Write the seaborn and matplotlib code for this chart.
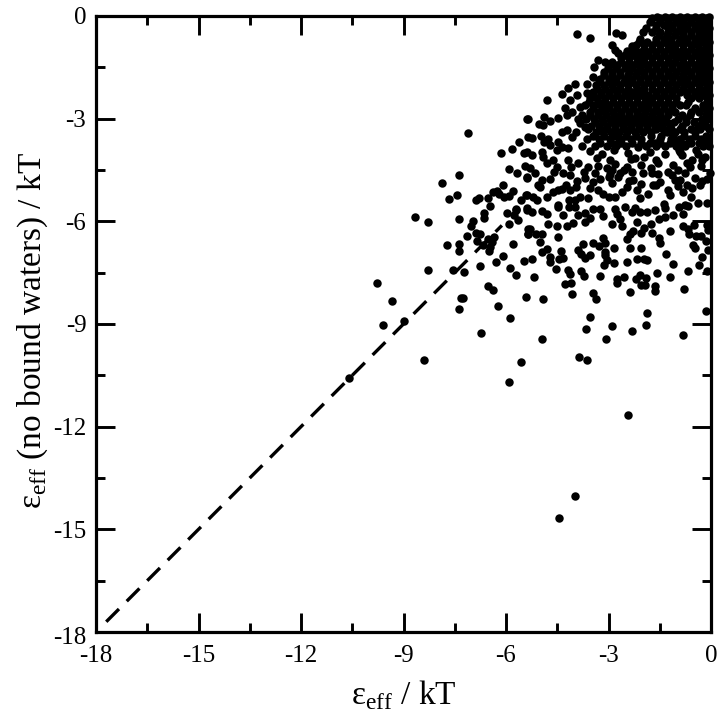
import matplotlib
matplotlib.use("Agg")
import matplotlib.pyplot as plt
from matplotlib.ticker import MultipleLocator
from matplotlib.transforms import ScaledTranslation
import numpy as np
import pandas as pd
import seaborn as sns

# isolated points in the lower tail
tail_x = [-7.11,-7.87,-7.37,-7.67,-7.43,-6.88,-6.79,-6.53,-6.47,-6.38,-6.26,-6.09,-6.15,-5.82,-5.62,-5.36,-5.39,-5.91,-5.68,-5.47,
          -5.44,-5.39,-6.2,-6.05,-5.9,-5.8,-5.56,-5.41,-5.71,-5.39,-8.66,-8.28,-7.37,-6.98,-7.03,-6.63,-6.63,-5.98,-5.71,-5.78,
          -5.66,-5.9,-5.39,-5.35,-5.37,-7.15,-6.88,-6.76,-6.86,-6.54,-6.35,-6.4,-6.68,-6.47,-6.49,-7.73,-7.39,-7.37,-5.79,-6.1,
          -6.3,-6.76,-5.47,-5.87,-5.7,-7.56,-7.22,-8.28,-9.78,-6.52,-6.39,-7.33,-7.25,-7.37,-6.22,-5.41,-5.87,-9.34,-9.61,-8.99,
          -6.74,-8.39,-5.55,-5.9,-10.59,-4.45,-3.98,-2.43]
tail_y = [-3.41,-4.89,-4.65,-5.35,-5.23,-5.38,-5.33,-5.32,-5.55,-5.15,-5.12,-4.94,-4.0,-3.89,-3.68,-3.54,-3.01,-4.47,-4.59,-4.0,
          -4.39,-4.74,-5.2,-5.3,-5.25,-5.1,-5.38,-5.23,-5.65,-5.6,-5.87,-6.01,-5.92,-5.98,-6.13,-5.77,-5.9,-5.75,-5.67,-5.82,
          -5.97,-6.09,-5.67,-6.21,-6.37,-6.43,-6.35,-6.38,-6.58,-6.52,-6.45,-6.6,-6.7,-6.76,-6.87,-6.68,-6.66,-6.86,-6.67,-7.01,
          -7.18,-7.3,-7.16,-7.35,-7.56,-7.41,-7.48,-7.41,-7.81,-7.88,-8.01,-8.23,-8.25,-8.56,-8.47,-8.21,-8.83,-8.34,-9.02,-8.92,
          -9.27,-10.06,-10.11,-10.7,-10.59,-14.66,-14.03,-11.67]

# separate points below the dense cloud
low_x = [-4.91,-4.95,-3.86,-3.62,-3.67,-3.55,-3.07,-2.89,-2.32,-1.89,-1.87,-0.82,-0.15,-4.07,-3.44,-3.38,-5.17,-4.26,-4.09,-4.53,
         -4.19,-4.12,-3.81,-3.73,-3.25,-3.13,-2.83,-2.75,-2.76,-2.55,-2.36,-2.45,-2.2,-2.08,-1.91,-2.05,-1.93,-1.65,-1.63,-1.57,
         -1.2,-1.1,-0.79,-0.66,-0.35,-0.13,-0.26,-0.09,-0.47,-0.52,-0.15,-1.33,-1.86,-1.95,-2.18,-2.04,-2.36,-2.83,-3.1,-3.1,
         -3.05,-3.53,-3.69,-3.8,-3.9,-3.74,-3.46,-3.29,-3.15,-3.1,-4.39,-4.47,-4.44,-4.32,-4.71,-4.71,-4.79,-4.96,-5.23,-5.01,
         -5.12,-4.94,-5.35,-5.31,-4.77,-4.52,-4.22,-4.03,-4.34,-4.95,-4.81,-5.23,-4.49,-2.9,-2.6,-2.17,-1.76,-1.95,-2.05,-2.27,
         -2.38,-2.47,-1.73,-1.51,-1.48,-1.2,-0.83,-0.66,-0.63,-0.45,-0.29,-0.5,-0.13,-0.1,-1.51,-1.34,-1.1,-0.83,-3.17,-3.54,
         -3.69,-3.88,-3.7,-2.76,-2.66,-2.32,-2.08,-1.87,-1.64,-4.17,-3.98,-3.44,-3.25,-2.81,-2.52,-2.22,-1.34,-0.95,-0.66]
low_y = [-8.27,-9.44,-9.97,-10.06,-9.14,-8.81,-9.44,-9.05,-9.2,-9.03,-8.69,-9.31,-8.61,-8.12,-8.09,-8.27,-7.62,-7.83,-7.8,-7.39,
         -7.41,-7.55,-7.45,-7.61,-7.61,-7.28,-7.23,-7.69,-7.8,-7.62,-8.07,-7.19,-7.69,-7.57,-7.67,-7.86,-7.86,-8.04,-7.9,-7.52,
         -7.62,-7.25,-7.99,-7.44,-7.28,-7.44,-7.04,-6.84,-6.79,-6.7,-6.57,-6.95,-7.14,-7.11,-7.09,-6.77,-6.77,-6.78,-6.89,-6.99,
         -7.13,-6.99,-7.07,-6.94,-6.83,-6.65,-6.62,-6.71,-6.5,-6.62,-6.86,-6.47,-7.1,-7.08,-7.18,-7.04,-6.82,-6.91,-7.09,-6.6,
         -6.38,-6.38,-6.38,-6.23,-6.09,-6.14,-6.14,-6.06,-5.82,-5.69,-5.8,-5.74,-5.57,-6.09,-6.14,-6.03,-6.08,-6.19,-6.33,-6.29,
         -6.37,-6.53,-6.35,-6.5,-6.63,-6.29,-6.15,-6.23,-6.36,-6.42,-6.42,-6.11,-6.11,-6.26,-5.93,-5.87,-5.82,-5.8,-5.84,-5.9,
         -5.77,-5.82,-6.01,-5.8,-5.93,-5.72,-5.74,-5.72,-5.67,-5.57,-5.57,-5.64,-5.64,-5.64,-5.57,-5.62,-5.6,-5.57,-5.55]

# points on the rim of the cloud and in its thinner lower part
rim_x = [-3.91,-3.53,-2.79,-2.61,-2.89,-2.81,-2.71,-2.47,-2.32,-2.22,-3.32,-3.1,-3.42,-3.44,-3.64,-3.98,-4.19,-4.37,-4.13,-3.91,
         -3.64,-4.81,-4.27,-4.08,-4.22,-3.83,-4.47,-4.88,-4.71,-5.03,-4.91,-5.35,-5.23,-4.98,-4.76,-4.88,-4.47,-4.37,-4.22,-4.08,
         -3.83,-3.69,-4.52,-4.37,-4.18,-4.95,-4.91,-5.25,-5.39,-4.61,-4.52,-5.15,-5.3,-5.39,-4.95,-4.71,-5.05,-5.2,-5.39,-4.81,
         -5.1,-4.47,-4.37,-4.32,-4.13,-3.93,-3.44,-3.54,-4.13,-4.47,-4.17,-3.98,-3.83,-3.59,-3.3,-3.15,-3.0,-2.81,-2.61,-2.47,
         -2.27,-2.17,-2.08,-1.85,-1.69,-1.49,-1.25,-1.2,-1.39,-0.81,-0.56,-0.32,-0.13,-0.03,-0.59,-0.37,-0.13,-0.76,-1.05,-1.25,
         -0.76,-0.96,-1.74,-1.98,-2.56,-3.0,-2.91,-3.59,-3.88,-4.18,-3.05,-2.71,-1.54,-2.22,-0.56,-0.17,-0.37,-0.08,-0.13,-0.66,
         -0.95,-1.05,-1.64,-2.13,-2.71]
rim_y = [-0.53,-0.63,-0.51,-0.56,-0.85,-0.98,-1.09,-1.01,-0.88,-1.04,-1.29,-1.34,-1.5,-1.77,-1.99,-1.99,-2.1,-2.28,-2.44,-2.31,
         -2.26,-2.46,-2.7,-2.8,-2.9,-2.65,-2.99,-2.96,-3.06,-3.16,-3.19,-3.01,-3.56,-3.5,-3.58,-3.69,-3.68,-3.38,-3.33,-3.53,
         -3.14,-3.24,-3.92,-3.82,-3.87,-3.97,-4.11,-4.07,-3.97,-4.21,-4.41,-4.6,-4.45,-4.7,-4.8,-4.75,-4.94,-5.28,-5.23,-5.28,
         -5.38,-5.09,-5.06,-4.6,-4.65,-4.82,-4.85,-5.04,-5.09,-5.53,-5.38,-5.38,-5.28,-5.33,-5.09,-5.19,-5.28,-5.28,-5.14,-4.99,
         -4.8,-5.09,-5.33,-5.2,-4.94,-4.85,-5.09,-5.23,-5.48,-5.14,-5.02,-4.94,-4.75,-4.6,-5.3,-5.46,-5.46,-5.53,-4.8,-4.55,
         -4.6,-4.5,-4.6,-4.6,-4.5,-4.7,-4.5,-4.41,-4.31,-4.21,-4.45,-4.7,-4.31,-4.16,-4.21,-4.11,-4.02,-3.53,-3.68,-3.72,
         -3.92,-3.63,-3.72,-3.82,-3.72]

# the solid core of the cloud, read row by row
core_row_y = [-0.07,-0.27,-0.46,-0.66,-0.85,-1.05,-1.24,-1.44,-1.63,-1.83,-2.02,-2.22,-2.41,-2.61,-2.8,-3.0,-3.2,-3.4,-3.6,-3.8]
core_row_x = [
    [-1.72,-1.48,-1.25,-1.02,-0.8,-0.58,-0.36,-0.15,-0.08],
    [-1.61,-1.38,-1.14,-0.92,-0.69,-0.47,-0.25,-0.08],
    [-1.98,-1.72,-1.5,-1.27,-1.03,-0.81,-0.58,-0.36,-0.14],
    [-2.08,-1.62,-1.39,-1.16,-0.92,-0.7,-0.48,-0.25,-0.08],
    [-2.2,-1.96,-1.73,-1.5,-1.27,-1.04,-0.82,-0.59,-0.37,-0.14],
    [-2.08,-1.85,-1.62,-1.38,-1.15,-0.93,-0.7,-0.47,-0.25,-0.08],
    [-2.62,-2.4,-2.18,-1.95,-1.72,-1.49,-1.27,-1.03,-0.81,-0.58,-0.36,-0.14],
    [-3.0,-2.75,-2.52,-2.29,-2.06,-1.83,-1.6,-1.38,-1.15,-0.92,-0.7,-0.47,-0.25,-0.08],
    [-3.12,-2.89,-2.65,-2.41,-2.18,-1.95,-1.72,-1.49,-1.26,-1.03,-0.8,-0.58,-0.36,-0.14],
    [-3.25,-3.0,-2.77,-2.53,-2.3,-2.07,-1.84,-1.61,-1.38,-1.15,-0.92,-0.69,-0.47,-0.25,-0.08],
    [-3.36,-3.12,-2.89,-2.65,-2.42,-2.19,-1.95,-1.72,-1.49,-1.26,-1.03,-0.8,-0.58,-0.35,-0.13],
    [-3.45,-3.22,-3.0,-2.76,-2.53,-2.3,-2.07,-1.62,-1.38,-1.15,-0.92,-0.69,-0.47,-0.25,-0.08],
    [-3.55,-3.33,-3.1,-2.87,-2.64,-2.41,-2.18,-1.92,-1.72,-1.48,-1.25,-1.03,-0.58,-0.35,-0.13],
    [-3.7,-3.43,-3.21,-2.98,-2.75,-2.52,-2.29,-2.05,-1.83,-1.6,-1.37,-1.15,-0.92,-0.72,-0.24,-0.08],
    [-3.55,-3.32,-3.09,-2.86,-2.63,-2.4,-2.17,-1.94,-1.71,-1.48,-1.26,-1.04,-0.58,-0.36,-0.13],
    [-3.9,-3.65,-3.43,-3.2,-2.97,-2.74,-2.51,-2.28,-2.06,-1.83,-1.6,-1.37,-0.96,-0.74,-0.25,-0.1],
    [-3.5,-3.27,-3.03,-2.8,-2.57,-2.34,-2.11,-1.88,-1.65,-1.42,-1.19,-0.86,-0.38,-0.14],
    [-3.95,-3.38,-3.15,-2.92,-2.68,-2.45,-2.21,-1.98,-1.75,-1.29,-1.05,-0.78,-0.46],
    [-3.62,-3.28,-2.97,-2.63,-2.34,-2.05,-1.5,-1.18,-0.9,-0.62,-0.28],
    [-3.78,-3.4,-3.05,-2.77,-2.48,-1.9,-1.62,-1.35,-1.02,-0.75,-0.22,-0.05],
]

# a second, overlapping layer of the core
fill_row_y = [-0.02,-0.17,-0.36,-0.56,-0.76,-0.95,-1.15,-1.34,-1.53,-1.73,-1.93,-2.12,-2.31,-2.51,-2.7,-2.9,-3.1,-3.3,-3.5,-3.7]
fill_row_x = [
    [-1.58,-1.36,-1.13,-0.9,-0.69,-0.47,-0.25,-0.05],
    [-1.8,-1.5,-1.26,-1.03,-0.81,-0.58,-0.36,-0.14],
    [-1.9,-1.62,-1.27,-1.15,-0.92,-0.7,-0.47,-0.25,-0.05],
    [-1.52,-1.28,-1.04,-0.81,-0.59,-0.36,-0.15],
    [-2.12,-1.86,-1.62,-1.38,-1.16,-0.93,-0.7,-0.48,-0.26,-0.05],
    [-2.3,-1.96,-1.74,-1.5,-1.26,-1.04,-0.81,-0.59,-0.36,-0.14],
    [-2.52,-2.28,-2.06,-1.84,-1.6,-1.38,-1.15,-0.92,-0.7,-0.47,-0.25,-0.05],
    [-2.9,-2.63,-2.4,-2.17,-1.95,-1.72,-1.49,-1.26,-1.04,-0.81,-0.58,-0.36,-0.14],
    [-3.02,-2.77,-2.53,-2.3,-2.07,-1.84,-1.61,-1.38,-1.15,-0.92,-0.69,-0.47,-0.25,-0.05],
    [-3.14,-2.89,-2.65,-2.42,-2.19,-1.96,-1.73,-1.49,-1.27,-1.04,-0.81,-0.58,-0.36,-0.14],
    [-3.27,-3.0,-2.78,-2.54,-2.31,-2.08,-1.84,-1.6,-1.37,-1.15,-0.92,-0.69,-0.47,-0.25,-0.05],
    [-3.34,-3.1,-2.88,-2.65,-2.42,-2.18,-1.95,-1.73,-1.5,-1.26,-1.04,-0.81,-0.58,-0.36,-0.14],
    [-3.44,-3.22,-2.99,-2.76,-2.53,-2.29,-2.03,-1.83,-1.6,-1.37,-1.14,-0.69,-0.46,-0.24,-0.05],
    [-3.58,-3.32,-3.1,-2.87,-2.64,-2.4,-2.17,-1.94,-1.72,-1.49,-1.26,-1.03,-0.66,-0.13],
    [-3.44,-3.2,-2.98,-2.75,-2.52,-2.29,-2.05,-1.83,-1.6,-1.37,-1.15,-0.47,-0.24,-0.07],
    [-3.78,-3.54,-3.31,-3.08,-2.85,-2.62,-2.4,-2.17,-1.95,-1.72,-1.49,-1.26,-0.85,-0.62,-0.14],
    [-3.39,-3.15,-2.92,-2.69,-2.46,-2.23,-2.0,-1.77,-1.54,-1.3,-1.08,-0.72,-0.5,-0.25],
    [-3.6,-3.26,-3.03,-2.8,-2.56,-2.33,-2.1,-1.87,-1.62,-1.4,-1.18,-0.92,-0.58,-0.33,-0.07],
    [-3.45,-3.12,-2.82,-2.49,-2.2,-1.76,-1.45,-1.1,-0.78,-0.48,-0.15],
    [-3.25,-2.92,-2.63,-2.3,-2.06,-1.78,-1.48,-1.2,-0.88,-0.6,-0.35],
]

# extra readings between the cloud and the scattered points
band_x = [-3.55,-3.2,-2.84,-2.42,-1.8,-1.36,-0.9,-0.45,-3.35,-2.95,-2.35,-1.95,-1.6,-0.85,-0.7,-0.25,-4.1,-3.72,-3.3,-2.8,
          -2.45,-2.05,-1.75,-1.1,-0.62,-0.3,-3.4,-2.95,-2.65,-2.3,-1.55,-1.15,-0.9,-0.48,-4.25,-3.95,-3.7,-3.25,-2.9,-2.4,
          -2.05,-1.62,-0.97,-0.7,-0.25,-4.72,-4.6,-4.8,-5.0,-4.62]
band_y = [-3.95,-4.02,-3.93,-4.0,-3.96,-4.02,-3.97,-3.92,-4.15,-4.22,-4.18,-4.12,-4.2,-4.05,-4.3,-4.2,-4.42,-4.55,-4.38,-4.32,
          -4.42,-4.36,-4.45,-4.35,-4.42,-4.38,-4.6,-4.62,-4.58,-4.55,-4.62,-4.65,-4.78,-4.72,-4.95,-5.0,-4.72,-4.75,-4.88,-4.82,
          -4.92,-4.95,-4.96,-4.94,-4.82,-3.78,-4.55,-4.3,-5.0,-5.15]

line_x = [-17.7, -6.12]
x_label = "ε$_{\\mathrm{eff}}$ / kT"
y_label = "ε$_{\\mathrm{eff}}$ (no bound waters) / kT"
ticks = [-18, -15, -12, -9, -6, -3, 0]

core_x = [v for row in core_row_x + fill_row_x for v in row]
core_y = [y for y, row in zip(core_row_y + fill_row_y, core_row_x + fill_row_x) for _ in row]
df = pd.DataFrame({
    "x": tail_x + low_x + rim_x + core_x + band_x,
    "y": tail_y + low_y + rim_y + core_y + band_y,
})
diag = pd.DataFrame({"x": line_x, "y": line_x})

sns.set_theme(style="white")
plt.rcParams["font.family"] = ["Liberation Serif", "DejaVu Serif"]
plt.rcParams["mathtext.fontset"] = "custom"
plt.rcParams["mathtext.rm"] = "Liberation Serif"

fig = plt.figure(figsize=(7.19, 7.20), dpi=100)
ax = fig.add_axes([96 / 719, (720 - 632) / 720, (711 - 96) / 719, (632 - 16) / 720])
sns.lineplot(data=diag, x="x", y="y", ax=ax, color="black", linewidth=2.4,
             dashes=False, linestyle=(0, (5.4, 3.3)), errorbar=None, sort=False)
sns.scatterplot(data=df, x="x", y="y", ax=ax, color="black", s=37, linewidth=0,
                clip_on=False, zorder=3)
ax.set_xlim(-18, 0)
ax.set_ylim(-18, 0)
ax.set_xticks(ticks)
ax.set_yticks(ticks)
ax.set_xticklabels([str(t) for t in ticks])
ax.set_yticklabels([str(t) for t in ticks])
ax.xaxis.set_minor_locator(MultipleLocator(1.5))
ax.yaxis.set_minor_locator(MultipleLocator(1.5))
ax.tick_params(which="major", direction="in", length=13.5, width=2.1, top=True, right=True,
               bottom=True, left=True, labelsize=18, color="black", labelcolor="black")
ax.tick_params(axis="x", which="major", pad=9.5)
ax.tick_params(axis="y", which="major", pad=7)
ax.tick_params(which="minor", direction="in", length=6.8, width=2.1, top=True, right=True,
               bottom=True, left=True, color="black")
for s in ax.spines.values():
    s.set_linewidth(2.3)
    s.set_color("black")
    s.set_visible(True)
ax.set_xlabel(x_label, fontsize=24, color="black", labelpad=8)
ax.set_ylabel(y_label, fontsize=24, color="black", labelpad=2, y=0.49)
bottom_label = ax.get_yticklabels()[0]
bottom_label.set_transform(bottom_label.get_transform() + ScaledTranslation(0, -4 / 100, fig.dpi_scale_trans))
fig.savefig("out.png", dpi=100)
